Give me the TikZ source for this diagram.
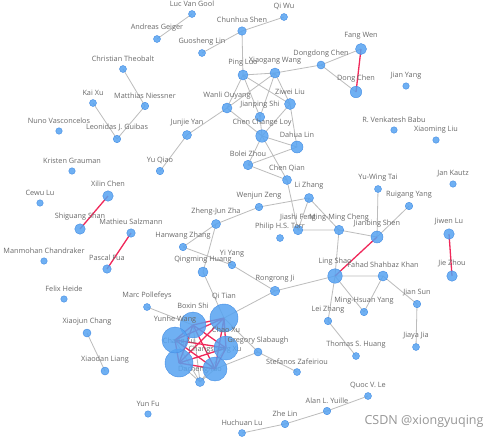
\documentclass[tikz,border=0pt]{standalone}
\usepackage{fontspec}
\setmainfont{Open Sans}
\usetikzlibrary{backgrounds}
\definecolor{nodeblue}{RGB}{86,163,241}
\definecolor{nodeedge}{RGB}{66,140,228}
\definecolor{edgegray}{RGB}{188,188,188}
\definecolor{edgered}{RGB}{240,40,90}
\definecolor{labelgray}{RGB}{105,105,105}
\definecolor{wmgray}{RGB}{150,150,150}

\begin{document}
\begin{tikzpicture}[x=1pt,y=-1pt,label distance=3.5pt,
  au/.style={circle,inner sep=0pt,minimum size=#1,fill=nodeblue,fill opacity=.85,draw=nodeedge,line width=.4pt},
  lbl/.style={text=labelgray,font=\fontsize{7.3}{8}\selectfont,inner sep=0pt,fill opacity=1,text opacity=1},
  co/.style={draw=edgegray,line width=.8pt},
  strong/.style={draw=edgered,line width=1.3pt}]
\useasboundingbox (0,0) rectangle (502,440);
% authors
\node[au=7pt,label={[lbl]above:Luc Van Gool}] (lvg) at (192,14) {};
\node[au=7pt,label={[lbl]above:Andreas Geiger}] (ag) at (157,39) {};
\node[au=8.5pt,label={[lbl]above:Chunhua Shen}] (chs) at (242,31) {};
\node[au=7pt,label={[lbl]above:Qi Wu}] (qw) at (284,17) {};
\node[au=7pt,label={[lbl]above:Guosheng Lin}] (gsl) at (202,53) {};
\node[au=10pt,label={[lbl]above:Ping Luo}] (pl) at (243,75) {};
\node[au=10pt,label={[lbl]above:Xiaogang Wang}] (xgw) at (275,73) {};
\node[au=8pt,label={[lbl]above:Dongdong Chen}] (ddc) at (321,65) {};
\node[au=11pt,label={[lbl]above:Fang Wen}] (fw) at (361,49) {};
\node[au=11.5pt,label={[lbl]above:Dong Chen}] (dc) at (356,92) {};
\node[au=6.5pt,label={[lbl]above:Jian Yang}] (jny) at (406,86) {};
\node[au=7pt,label={[lbl]above:Christian Theobalt}] (ct) at (123,69) {};
\node[au=7pt,label={[lbl]above:Kai Xu}] (kx) at (93,103) {};
\node[au=7.5pt,label={[lbl]above:Matthias Niessner}] (mn) at (145,106) {};
\node[au=10pt,label={[lbl]above:Wanli Ouyang}] (wo) at (227,108) {};
\node[au=11pt,label={[lbl]above:Ziwei Liu}] (zwl) at (290,104) {};
\node[au=9.5pt,label={[lbl]above:Jianping Shi}] (jps) at (260,117) {};
\node[au=12.5pt,label={[lbl]above:Chen Change Loy}] (ccl) at (262,136) {};
\node[au=12pt,label={[lbl]above:Dahua Lin}] (dhl) at (297,147) {};
\node[au=6.5pt,label={[lbl]above:Nuno Vasconcelos}] (nv) at (59,131) {};
\node[au=7.5pt,label={[lbl]above:Leonidas J. Guibas}] (ljg) at (117,139) {};
\node[au=9pt,label={[lbl]above:Junjie Yan}] (jjy) at (187,135) {};
\node[au=6.5pt,label={[lbl]above:R. Venkatesh Babu}] (rvb) at (394,130) {};
\node[au=6.5pt,label={[lbl]above:Xiaoming Liu}] (xml) at (436,140) {};
\node[au=6.5pt,label={[lbl]above:Kristen Grauman}] (kg) at (72,171) {};
\node[au=7.5pt,label={[lbl]above:Yu Qiao}] (yq) at (160,171) {};
\node[au=9.5pt,label={[lbl]above:Bolei Zhou}] (bz) at (248,165) {};
\node[au=9pt,label={[lbl]above:Chen Qian}] (cq) at (287,180) {};
\node[au=10.5pt,label={[lbl]above:Xilin Chen}] (xlc) at (108,196) {};
\node[au=6.5pt,label={[lbl]above:Cewu Lu}] (cwl) at (40,203) {};
\node[au=10.5pt,label={[lbl]above:Shiguang Shan}] (sgs) at (80,229) {};
\node[au=8.5pt,label={[lbl]above:Mathieu Salzmann}] (ms) at (131,233) {};
\node[au=6.5pt,label={[lbl]above:Manmohan Chandraker}] (mc) at (44,261) {};
\node[au=8.5pt,label={[lbl]above:Pascal Fua}] (pf) at (107,269) {};
\node[au=7pt,label={[lbl]above:Yu-Wing Tai}] (ywt) at (378,189) {};
\node[au=6.5pt,label={[lbl]above:Jan Kautz}] (jk) at (453,184) {};
\node[au=9pt,label={[lbl]above:Li Zhang}] (lzh) at (309,198) {};
\node[au=7.5pt,label={[lbl]above:Wenjun Zeng}] (wz) at (259,207) {};
\node[au=7.5pt,label={[lbl]above:Ruigang Yang}] (rgy) at (409,206) {};
\node[au=9pt,label={[lbl]above:Zheng-Jun Zha}] (zjz) at (216,224) {};
\node[au=9.5pt,label={[lbl]above:Jiashi Feng}] (jf) at (298,230) {};
\node[au=7pt,label={[lbl]above:Philip H.S. Torr}] (pt) at (280,238) {};
\node[au=9.5pt,label={[lbl]above:Ming-Ming Cheng}] (mmc) at (339,230) {};
\node[au=12pt,label={[lbl]above:Jianbing Shen}] (jbs) at (377,237) {};
\node[au=10.5pt,label={[lbl]above:Jiwen Lu}] (jwl) at (449,234) {};
\node[au=7.5pt,label={[lbl]above:Hanwang Zhang}] (hwz) at (183,247) {};
\node[au=7.5pt,label={[lbl]above:Yi Yang}] (yy) at (232,265) {};
\node[au=10pt,label={[lbl]above:Qingming Huang}] (qmh) at (203,272) {};
\node[au=14.5pt,label={[lbl]above:Ling Shao}] (ls) at (335,276) {};
\node[au=10pt,label={[lbl]above:Fahad Shahbaz Khan}] (fsk) at (383,276) {};
\node[au=10.5pt,label={[lbl]above:Jie Zhou}] (jz) at (452,276) {};
\node[au=9.5pt,label={[lbl]above:Rongrong Ji}] (rrj) at (275,291) {};
\node[au=6.5pt,label={[lbl]above:Felix Heide}] (fh) at (64,299) {};
\node[au=7pt,label={[lbl]above:Marc Pollefeys}] (mp) at (147,307) {};
\node[au=7.5pt,label={[lbl]above:Jian Sun}] (js) at (417,304) {};
\node[au=7.5pt,label={[lbl]above:Ming-Hsuan Yang}] (mhy) at (364,312) {};
\node[au=7.5pt,label={[lbl]above:Lei Zhang}] (lez) at (328,321) {};
\node[au=8pt,label={[lbl]above:Xiaojun Chang}] (xjc) at (87,333) {};
\node[au=7pt,label={[lbl]above:Jiaya Jia}] (jyj) at (416,347) {};
\node[au=7pt,label={[lbl]above:Thomas S. Huang}] (tsh) at (356,356) {};
\node[au=8pt,label={[lbl]above:Xiaodan Liang}] (xdl) at (105,371) {};
\node[au=6.5pt,label={[lbl]above:Yun Fu}] (yf) at (148,414) {};
% the big cluster
\node[au=9pt,label={[lbl]above:Dacheng Tao}] (dt) at (200,382) {};
\node[au=28pt,label={[lbl]above:Chang Xu}] (cx) at (179,363) {};
\node[au=24pt,label={[lbl]above:Changsheng Xu}] (csx) at (215,369) {};
\node[au=26pt,label={[lbl]above:Boxin Shi}] (bs) at (193,325) {};
\node[au=26pt,label={[lbl]above:Yunhe Wang}] (yw) at (175,340) {};
\node[au=28pt,label={[lbl]above:Qi Tian}] (qt) at (224,318) {};
\node[au=24pt,label={[lbl]above:Chao Xu}] (chx) at (226,348) {};
\node[au=8pt,label={[lbl]above:Gregory Slabaugh}] (gs) at (258,352) {};
\node[au=7pt,label={[lbl]above:Stefanos Zafeiriou}] (sz) at (297,372) {};
\node[au=7pt,label={[lbl]above:Quoc V. Le}] (qvl) at (368,396) {};
\node[au=7.5pt,label={[lbl]above:Alan L. Yuille}] (aly) at (327,411) {};
\node[au=7.5pt,label={[lbl]above:Zhe Lin}] (zhl) at (285,424) {};
\node[au=7pt,label={[lbl]above:Huchuan Lu}] (hcl) at (242,433) {};
\node[text=wmgray,font=\fontsize{12.5}{14}\selectfont] (wm) at (424,421) {CSDN @xiongyuqing};
% links
\begin{pgfonlayer}{background}
\fill[white] (0,0) rectangle (502,440);
\draw[co] (lvg.center)--(ag.center) (chs.center)--(qw.center) (chs.center)--(gsl.center) (chs.center)--(pl.center);
\draw[co] (fw.center)--(ddc.center) (ddc.center)--(dc.center) (ddc.center)--(xgw.center);
\draw[co] (ct.center)--(mn.center) (mn.center)--(ljg.center) (kx.center)--(ljg.center);
\draw[co] (jjy.center)--(wo.center) (jjy.center)--(yq.center);
\draw[co] (pl.center)--(xgw.center) (pl.center)--(wo.center) (xgw.center)--(wo.center) (pl.center)--(jps.center) (pl.center)--(zwl.center);
\draw[co] (xgw.center)--(jps.center) (xgw.center)--(zwl.center) (wo.center)--(ccl.center) (zwl.center)--(ccl.center) (zwl.center)--(dhl.center);
\draw[co] (ccl.center)--(dhl.center) (jps.center)--(ccl.center) (ccl.center)--(bz.center) (bz.center)--(dhl.center) (ccl.center)--(cq.center) (bz.center)--(cq.center);
\draw[co] (cq.center)--(jf.center) (lzh.center)--(wz.center) (wz.center)--(zjz.center) (lzh.center)--(jf.center) (lzh.center)--(mmc.center) (jf.center)--(mmc.center);
\draw[co] (mmc.center)--(jbs.center) (mmc.center)--(ls.center) (jbs.center)--(ywt.center) (jbs.center)--(rgy.center);
\draw[co] (ls.center)--(fsk.center) (ls.center)--(rrj.center) (ls.center)--(mhy.center) (ls.center)--(lez.center) (fsk.center)--(mhy.center) (fsk.center)--(js.center) (js.center)--(jyj.center) (lez.center)--(tsh.center);
\draw[co] (rrj.center)--(qt.center) (zjz.center)--(hwz.center) (zjz.center)--(qmh.center) (hwz.center)--(yy.center) (yy.center)--(rrj.center) (qmh.center)--(qt.center);
\draw[co] (mp.center)--(bs.center) (xjc.center)--(xdl.center) (gs.center)--(sz.center) (gs.center)--(csx.center) (qt.center)--(gs.center);
\draw[co] (aly.center)--(qvl.center) (aly.center)--(zhl.center) (zhl.center)--(hcl.center);
\draw[co] (dt.center)--(cx.center) (dt.center)--(csx.center) (dt.center)--(yw.center) (dt.center)--(bs.center) (dt.center)--(chx.center);
\draw[strong] (fw.center)--(dc.center) (xlc.center)--(sgs.center) (ms.center)--(pf.center) (jbs.center)--(ls.center) (jwl.center)--(jz.center);
\draw[strong] (qt.center)--(bs.center) (qt.center)--(yw.center) (qt.center)--(chx.center) (qt.center)--(cx.center) (qt.center)--(csx.center);
\draw[strong] (bs.center)--(yw.center) (bs.center)--(chx.center) (bs.center)--(cx.center) (bs.center)--(csx.center);
\draw[strong] (yw.center)--(chx.center) (yw.center)--(cx.center) (yw.center)--(csx.center);
\draw[strong] (chx.center)--(cx.center) (chx.center)--(csx.center) (cx.center)--(csx.center);
\end{pgfonlayer}
\end{tikzpicture}
\end{document}
